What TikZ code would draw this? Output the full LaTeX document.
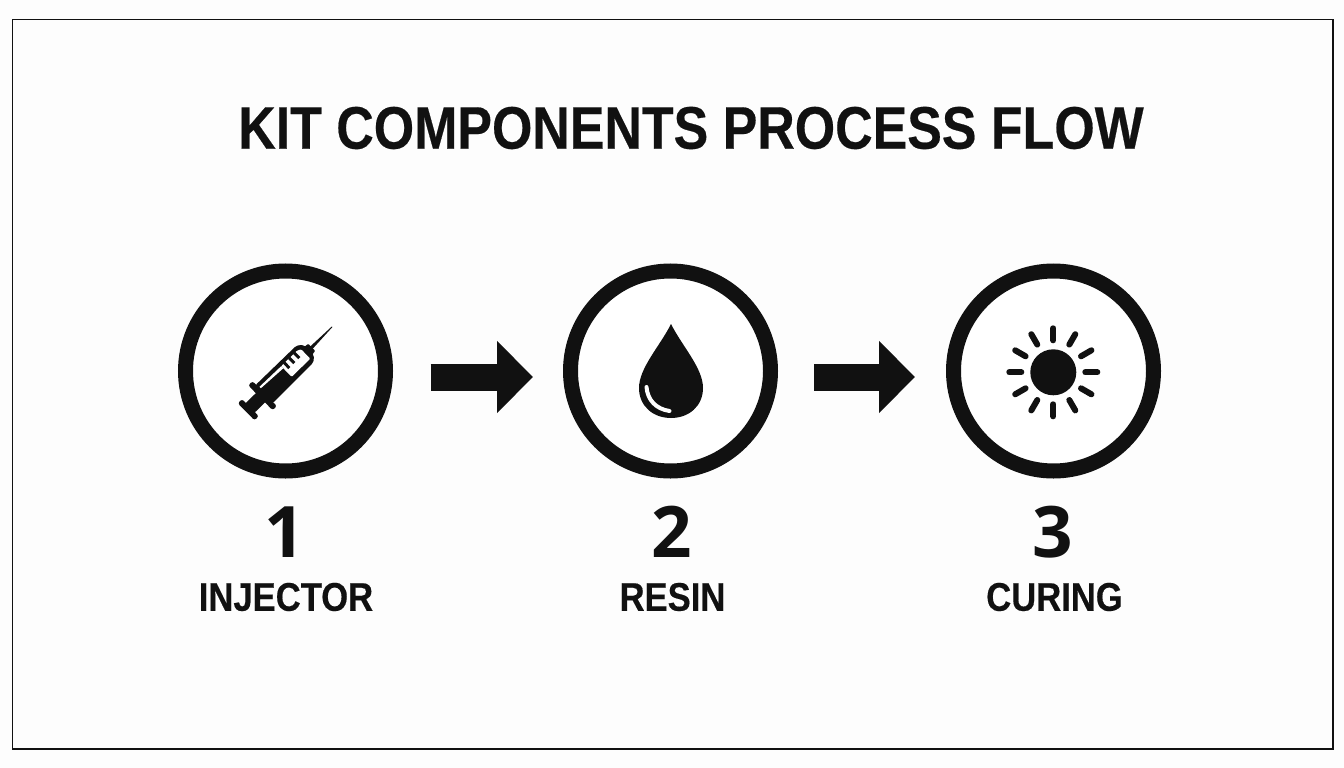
\documentclass[tikz,border=0pt]{standalone}
\usepackage{fontspec}
\newfontfamily\nb{Liberation Sans Bold}[FakeStretch=0.865,FakeBold=0.35]
\newfontfamily\nd{Open Sans}[Scale=1.0]
\usetikzlibrary{arrows.meta}
\definecolor{ink}{HTML}{111111}
\definecolor{paper}{HTML}{FDFDFD}
\tikzset{
  ring/.style={circle,draw=ink,line width=15pt,fill=white,minimum size=200pt,inner sep=0pt,outer sep=0pt},
  flowarrow/.style={draw=ink,line width=27pt,-{Triangle[length=36pt,width=70pt,color=ink]}},
  titletext/.style={font=\nb\fontsize{60}{60}\selectfont,text=ink,inner sep=0pt},
  numtext/.style={font=\nd\bfseries\fontsize{71}{71}\selectfont,text=ink,inner sep=0pt},
  labeltext/.style={font=\nb\fontsize{40}{40}\selectfont,text=ink,inner sep=0pt},
  ray/.style={draw=ink,line width=6pt,line cap=round}
}
\begin{document}
\begin{tikzpicture}[x=1pt,y=-1pt]
\useasboundingbox (0,0) rectangle (1344,768);
\fill[paper] (0,0) rectangle (1344,768);
\draw[ink,line width=1.4pt] (12.5,19.5) rectangle (1333,749);
\node[titletext] (title) at (691,128) {KIT COMPONENTS PROCESS FLOW};
\node[ring] (c1) at (285.5,371) {};
\node[ring] (c2) at (670.5,371) {};
\node[ring] (c3) at (1053.5,371) {};
\draw[flowarrow] ([xshift=45pt,yshift=-6pt]c1.east) -- ([xshift=-37.5pt,yshift=-6pt]c2.west);
\draw[flowarrow] ([xshift=43.5pt,yshift=-6pt]c2.east) -- ([xshift=-38.5pt,yshift=-6pt]c3.west);
% syringe
\begin{scope}[shift={(248.3,409.7)},rotate=44.5,y=1pt]
  \fill[ink,rounded corners=2.5pt] (-3,-12) rectangle (3,12);
  \fill[ink] (0,-6.5) rectangle (20,6.5);
  \fill[ink,rounded corners=2.5pt] (17,-17.5) rectangle (23,17.5);
  \fill[ink,rounded corners=4pt] (20,-12.5) -- (81,-12) -- (86,-5) -- (86,5) -- (81,12) -- (20,12.5) -- cycle;
  \fill[ink,rounded corners=1pt] (84,-5.5) -- (89,-5) -- (89,5) -- (84,5.5) -- cycle;
  \fill[ink] (88,-1.7) -- (118,0) -- (118,0.8) -- (88,1.7) -- cycle;
  \fill[white,rounded corners=1pt] (54,-7) -- (80,-7) -- (80,6) -- (76,8) -- (54,8) -- cycle;
  \fill[white] (24,6.5) -- (54,5) -- (54,8) -- (24,8.5) -- cycle;
  \fill[ink] (57,8.5) rectangle (60,1);
  \fill[ink] (64,8.5) rectangle (67,1);
  \fill[ink] (71,8.5) rectangle (74,1);
\end{scope}
% drop
\fill[ink] (671,324) .. controls (660,346) and (639,368) .. (639,388)
  .. controls (639,406) and (653,418) .. (671,418)
  .. controls (689,418) and (703,406) .. (703,388)
  .. controls (703,368) and (682,346) .. (671,324) -- cycle;
\draw[white,line width=4pt,line cap=round] (646.5,387) .. controls (647.5,400) and (656,409) .. (669.5,411);
% sun
\fill[ink] (1053.3,372.3) circle (23);
\foreach \a in {0,30,...,330}
  \draw[ray] (1053.3,372.3) ++(\a:32) -- ++(\a:12);
\node[numtext] (n1) at (285,532) {1};
\node[numtext] (n2) at (672,532) {2};
\node[numtext] (n3) at (1053,532) {3};
\node[labeltext] (l1) at (286,597) {INJECTOR};
\node[labeltext] (l2) at (672.5,597) {RESIN};
\node[labeltext] (l3) at (1054.5,597) {CURING};
\end{tikzpicture}
\end{document}
